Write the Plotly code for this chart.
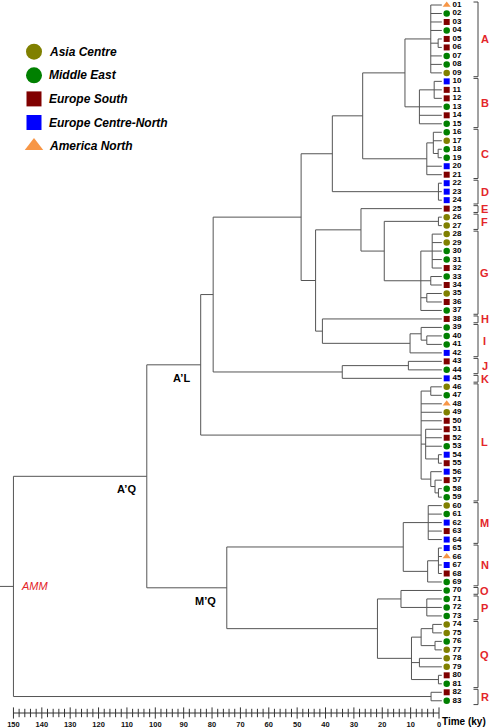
import plotly.graph_objects as go

# ------------------------------------------------------------------ data
LEAF_LABELS = ["01", "02", "03", "04", "05", "06", "07", "08", "09", "10",
               "11", "12", "13", "14", "15", "16", "17", "18", "19", "20",
               "21", "22", "23", "24", "25", "26", "27", "28", "29", "30",
               "31", "32", "33", "34", "35", "36", "37", "38", "39", "40",
               "41", "42", "43", "44", "45", "46", "47", "48", "49", "50",
               "51", "52", "53", "54", "55", "56", "57", "58", "59", "60",
               "61", "62", "63", "64", "65", "66", "67", "68", "69", "70",
               "71", "72", "73", "74", "75", "76", "77", "78", "79", "80",
               "81", "82", "83"]

LEAF_REGION = ["AN", "ME", "ES", "ME", "ES", "ES", "ME", "ME", "AC",
               "EC", "ES", "ES", "ME", "ES", "ME",
               "ME", "AC", "ME", "ME", "EC", "ES",
               "EC", "EC", "EC",
               "ES",
               "AC", "AC",
               "AC", "AC", "ME", "ME", "ES", "ME", "ES", "AC", "ES", "ME",
               "ES",
               "ME", "ME", "ME", "EC",
               "ES", "ME",
               "EC",
               "AC", "ME", "AN", "AC", "ES", "ES", "ES", "ME", "EC", "ES",
               "EC", "ES", "ME", "ME",
               "AC", "ME", "EC", "ES", "EC",
               "EC", "AN", "EC", "ES", "ME",
               "ME",
               "ME", "ME", "ME",
               "AC", "AC", "ME", "AC", "AC", "AC", "ES", "ME",
               "ES", "ME"]

REGION_CODES = ["AC", "ME", "ES", "EC", "AN"]
REGION_NAMES = ["Asia Centre", "Middle East", "Europe South",
                "Europe Centre-North", "America North"]

CLADE_NAMES = ["A", "B", "C", "D", "E", "F", "G", "H", "I", "J", "K", "L",
               "M", "N", "O", "P", "Q", "R"]
CLADE_FIRST = [1, 10, 16, 22, 25, 26, 28, 38, 39, 43, 45, 46, 60, 65, 70, 71, 74, 82]
CLADE_LAST = [9, 15, 21, 24, 25, 27, 37, 38, 42, 44, 45, 59, 64, 69, 70, 73, 81, 83]

# tree: (age in ky, [children]); leaves are leaf numbers
CL_A = (2.9, [1, 2, 3, 4, (0.3, [5, 6]), 7, 8, 9])
CL_B = (6.9, [(1.7, [10, 11, 12]), 13, 14, 15])
CL_C = (4.3, [(2.0, [16, 17, (0.3, [18, 19])]), 20, 21])
CL_D = (0.2, [22, 23, 24])
CL_F = (0.2, [26, 27])
CL_G = (6.4, [(2.4, [28, 29, 30, 31, 32]), (2.9, [33, 34]), (4.3, [35, 36]), 37])
CL_I = (10.2, [(6.3, [39, (4.3, [40, 41])]), 42])
CL_J = (10.8, [43, 44])
CL_L = (6.3, [(2.9, [46, 47]), 48, 49, 50,
              (4.7, [51, 52, 53, (0.2, [54, 55])]),
              (2.9, [56, (1.4, [57, (0.2, [58, 59])])])])
CL_M = (3.8, [60, 61, 62, 63, 64])
CL_N = (4.0, [(0.2, [65, 66, 67, 68]), 69])
CL_P = (4.3, [71, 72, 73])
CL_Q = (9.7, [(6.3, [(2.2, [74, 75]), (1.4, [76, 77])]), (6.9, [78, 79]), (0.2, [80, 81])])
CL_R = (2.8, [82, 83])

N_AB = (12.0, [CL_A, CL_B])
N_ABC = (26.9, [N_AB, CL_C])
N_AD = (37.6, [N_ABC, CL_D])
N_FG = (19.3, [CL_F, CL_G])
N_EG = (27.5, [25, N_FG])
N_HI = (41.1, [38, CL_I])
N_EI = (43.5, [N_EG, N_HI])
N_AI = (48.6, [N_AD, N_EI])
N_JK = (34.1, [CL_J, 45])
N_AK = (79.6, [N_AI, N_JK])
N_AL = (84.0, [N_AK, CL_L])            # A'L
N_MN = (12.6, [CL_M, CL_N])
N_OP = (13.4, [70, CL_P])
N_OQ = (21.7, [N_OP, CL_Q])
N_MQ = (74.8, [N_MN, N_OQ])            # M'Q
N_AQ = (103.0, [N_AL, N_MQ])           # A'Q
ROOT = (150.0, [N_AQ, CL_R])           # AMM

NODE_LABELS = [("A’L", N_AL), ("A’Q", N_AQ), ("M’Q", N_MQ)]

AXIS_MAJOR = [150, 140, 130, 120, 110, 100, 90, 80, 70, 60, 50, 40, 30, 20, 10, 0]
AXIS_MINOR = [148, 146, 144, 142, 138, 136, 134, 132, 128, 126, 124, 122,
              118, 116, 114, 112, 108, 106, 104, 102, 98, 96, 94, 92,
              88, 86, 84, 82, 78, 76, 74, 72, 68, 66, 64, 62, 58, 56, 54, 52,
              48, 46, 44, 42, 38, 36, 34, 32, 28, 26, 24, 22, 18, 16, 14, 12,
              8, 6, 4, 2]

# ------------------------------------------------------------------ style / layout
W, H = 490, 728
MB = 10                      # bottom margin
PLOT_H = H - MB
X0_PX, PX_PER_KY = 439.0, 2.837
Y1_PX, PX_PER_LEAF = 5.0, 8.485


def px2t(px):
    return (X0_PX - px) / PX_PER_KY


def py2leaf(py):
    return (py - Y1_PX) / PX_PER_LEAF + 1


TREE_COLOR = "#555555"
RED = "#E3262A"
FONT = "Arial, Liberation Sans, sans-serif"
COLORS = {"AC": "#808000", "ME": "#008000", "ES": "#800000",
          "EC": "#0000FF", "AN": "#F79646"}
SYMBOLS = {"AC": "circle", "ME": "circle", "ES": "square",
           "EC": "square", "AN": "triangle-up"}
SIZES = {"circle": 6.5, "square": 6, "triangle-up": 7}
LEG_SIZES = {"circle": 16, "square": 15, "triangle-up": 16}

TIP_EXT = 1.0                # leaf stems run a little past t=0
MARK_T = px2t(446.7)
LABEL_T = px2t(452.5)
BR_T, BR_TICK_T = px2t(478), px2t(473.5)
LETTER_T = px2t(484.5)
ROOT_STEM_T = px2t(0)
AXIS_Y = py2leaf(713)

# ------------------------------------------------------------------ tree layout
lx, ly = [], []
node_pos = {}


def lay(node):
    if isinstance(node, int):
        return 0.0, float(node)
    age, kids = node
    pos = [lay(k) for k in kids]
    ys = [p[1] for p in pos]
    lx.extend([age, age, None])
    ly.extend([ys[0], ys[-1], None])
    for (ca, cy), k in zip(pos, kids):
        end = -TIP_EXT if isinstance(k, int) else ca
        lx.extend([age, end, None])
        ly.extend([cy, cy, None])
    y = (ys[0] + ys[-1]) / 2
    node_pos[id(node)] = y
    return age, y


root_age, root_y = lay(ROOT)
lx.extend([ROOT_STEM_T, root_age, None])
ly.extend([root_y, root_y, None])

fig = go.Figure()
fig.add_trace(go.Scatter(x=lx, y=ly, mode="lines",
                         line=dict(color=TREE_COLOR, width=1),
                         hoverinfo="skip", showlegend=False))

# clade brackets
bx, by = [], []
for f, l in zip(CLADE_FIRST, CLADE_LAST):
    y0, y1 = f - 0.35, l + 0.45
    bx.extend([BR_TICK_T, BR_T, BR_T, BR_TICK_T, None])
    by.extend([y0, y0, y1, y1, None])
fig.add_trace(go.Scatter(x=bx, y=by, mode="lines",
                         line=dict(color="#444444", width=1),
                         hoverinfo="skip", showlegend=False))

# leaf markers
for code in REGION_CODES:
    ys = [i + 1 for i, r in enumerate(LEAF_REGION) if r == code]
    sym = SYMBOLS[code]
    fig.add_trace(go.Scatter(x=[MARK_T] * len(ys), y=ys, mode="markers",
                             marker=dict(symbol=sym, size=SIZES[sym],
                                         color=COLORS[code], line=dict(width=0)),
                             showlegend=False, hoverinfo="skip", cliponaxis=False))

# leaf labels
fig.add_trace(go.Scatter(x=[LABEL_T] * len(LEAF_LABELS),
                         y=list(range(1, len(LEAF_LABELS) + 1)),
                         mode="text", text=LEAF_LABELS, textposition="middle right",
                         textfont=dict(family=FONT, size=8, color="black", weight="bold"),
                         showlegend=False, hoverinfo="skip", cliponaxis=False))

# time axis
fig.add_trace(go.Scatter(x=[AXIS_MAJOR[0], AXIS_MAJOR[-1]], y=[AXIS_Y, AXIS_Y],
                         mode="lines", line=dict(color="#333333", width=1),
                         showlegend=False, hoverinfo="skip"))
fig.add_trace(go.Scatter(x=AXIS_MAJOR, y=[AXIS_Y] * len(AXIS_MAJOR), mode="markers",
                         marker=dict(symbol="line-ns", size=8,
                                     line=dict(color="#333333", width=1)),
                         showlegend=False, hoverinfo="skip", cliponaxis=False))
fig.add_trace(go.Scatter(x=AXIS_MINOR, y=[AXIS_Y] * len(AXIS_MINOR), mode="markers",
                         marker=dict(symbol="line-ns", size=6,
                                     line=dict(color="#333333", width=1)),
                         showlegend=False, hoverinfo="skip", cliponaxis=False))

# legend (drawn)
LEG_X_T = px2t(34)
LEG_TXT_T = px2t(46.5)
LEG_ROWS = [py2leaf(51.7 + 23.6 * k) for k in range(len(REGION_CODES))]
ann = []
for code, name, yy in zip(REGION_CODES, REGION_NAMES, LEG_ROWS):
    sym = SYMBOLS[code]
    fig.add_trace(go.Scatter(x=[LEG_X_T], y=[yy], mode="markers",
                             marker=dict(symbol=sym, size=LEG_SIZES[sym],
                                         color=COLORS[code], line=dict(width=0)),
                             name=name, showlegend=False, hoverinfo="skip"))
    ann.append(dict(x=LEG_TXT_T, y=yy, text=name, showarrow=False, xanchor="left",
                    yanchor="middle",
                    font=dict(family=FONT, size=12, color="black", weight="bold",
                              style="italic")))

# clade letters
for name, f, l in zip(CLADE_NAMES, CLADE_FIRST, CLADE_LAST):
    ann.append(dict(x=LETTER_T, y=(f + l) / 2 + 0.05, text=name, showarrow=False,
                    xanchor="center", yanchor="middle",
                    font=dict(family=FONT, size=11, color=RED, weight="bold")))

# node labels
for text, node in NODE_LABELS:
    ann.append(dict(x=node[0] + 3.0, y=node_pos[id(node)] + 1.55, text=text,
                    showarrow=False, xanchor="right", yanchor="middle",
                    font=dict(family=FONT, size=11, color="black", weight="bold")))
ann.append(dict(x=root_age - 2.0, y=root_y, text="AMM", showarrow=False,
                xanchor="left", yanchor="middle",
                font=dict(family=FONT, size=11, color=RED, style="italic")))
ann.append(dict(x=px2t(440.5), y=-(722 - PLOT_H) / PLOT_H, yref="paper",
                text="Time (ky)", showarrow=False, xanchor="left", yanchor="middle",
                borderpad=0,
                font=dict(family=FONT, size=10, color="black", weight="bold")))

fig.update_layout(
    width=W, height=H, margin=dict(l=0, r=0, t=0, b=MB, autoexpand=False),
    paper_bgcolor="white", plot_bgcolor="white",
    annotations=ann, showlegend=False,
    xaxis=dict(range=[px2t(0), px2t(W)], showgrid=False, zeroline=False,
               showline=False, ticks="", tickmode="array", tickvals=AXIS_MAJOR,
               ticktext=[str(v) for v in AXIS_MAJOR], automargin=False,
               tickfont=dict(family=FONT, size=7.5, color="#111111", weight="bold"),
               fixedrange=True),
    yaxis=dict(range=[py2leaf(PLOT_H), py2leaf(0)], showgrid=False, zeroline=False,
               showline=False, showticklabels=False, ticks="", fixedrange=True,
               automargin=False),
)

fig.write_html("out.html",
               config={"displayModeBar": False, "staticPlot": True},
               post_script="document.body.style.margin='0';"
                           "document.body.style.overflow='hidden';")
